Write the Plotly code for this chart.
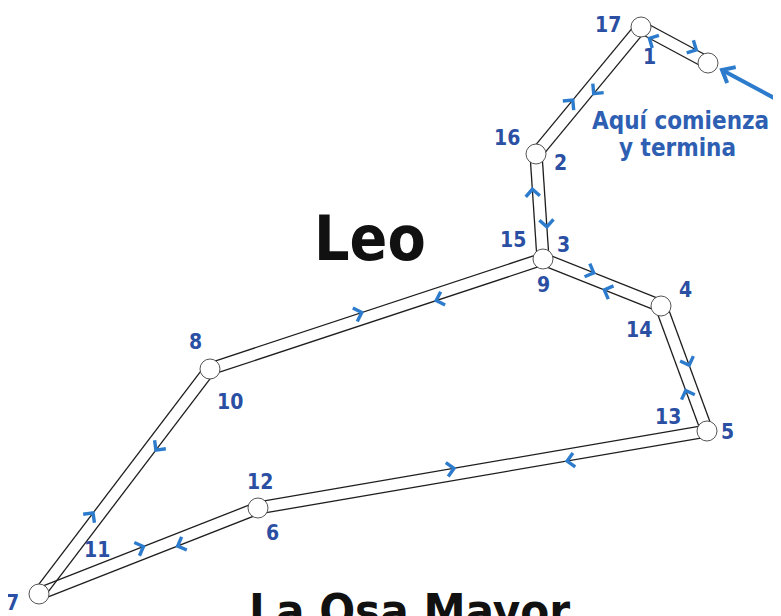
import numpy as np
import plotly.graph_objects as go

# ---- data ----
star_names = ["A", "B", "C", "D", "E", "F", "G", "H", "I"]
star_x = [641, 708, 536, 543, 661, 707, 258, 39, 210]
star_y = [27, 63, 154, 259, 306, 431, 508, 594, 369]

# route through the stars (B = start/end)
route = ["B", "A", "C", "D", "E", "F", "G", "H", "I", "D",
         "I", "H", "G", "F", "E", "D", "C", "A", "B"]
step_labels = [str(i) for i in range(1, 18)]
# where along each leg the direction chevron sits (fraction of leg)
arrow_fraction = [0.78, 0.47, 0.66, 0.38, 0.46, 0.305, 0.36, 0.33, 0.45,
                  0.315, 0.33, 0.47, 0.43, 0.31, 0.43, 0.63, 0.37, 0.73]

title_text = "Leo"
bottom_text = "La Osa Mayor"
start_text = ["Aquí comienza", "y termina"]

# ---- layout / style ----
label_offsets = {
    1: (8, 30), 2: (24, 9), 3: (20, -14), 4: (24, -16), 5: (20, 1),
    6: (14, 25), 7: (-27, 9), 8: (-15, -27), 9: (0, 26), 10: (20, 33),
    11: (58, -44), 12: (2, -26), 13: (-39, -14), 14: (-22, 24),
    15: (-30, -19), 16: (-29, -16), 17: (-33, -2),
}
HALF_GAP = 6.0
PAGE_MARGIN = 8  # default body margin of the html page
LINE_COLOR = "#1e1e1e"
NUM_COLOR = "#2a4fa3"
CHEV_COLOR = "#2c7bcc"
TXT_COLOR = "#2e5fb3"
NUM_FONT = "Liberation Sans Narrow, DejaVu Sans Condensed, Arial Narrow, sans-serif"

pos = {n: np.array([x, y], float) for n, x, y in zip(star_names, star_x, star_y)}


def rot(u, ang):
    c, s = np.cos(ang), np.sin(ang)
    return np.array([u[0] * c - u[1] * s, u[0] * s + u[1] * c])


lx, ly, cx, cy = [], [], [], []
for k in range(len(route) - 1):
    P, Q = pos[route[k]], pos[route[k + 1]]
    d = Q - P
    u = d / np.linalg.norm(d)
    nrm = np.array([u[1], -u[0]])  # left-hand side (y axis points down)
    a, b = P + HALF_GAP * nrm, Q + HALF_GAP * nrm
    lx += [a[0], b[0], None]
    ly += [a[1], b[1], None]
    m = P + arrow_fraction[k] * d + HALF_GAP * nrm
    tip = m + 4 * u
    p1, p2 = tip - 10 * rot(u, np.pi / 4), tip - 10 * rot(u, -np.pi / 4)
    cx += [p1[0], tip[0], p2[0], None]
    cy += [p1[1], tip[1], p2[1], None]

fig = go.Figure()
fig.add_trace(go.Scatter(x=lx, y=ly, mode="lines",
                         line=dict(color=LINE_COLOR, width=1.3), hoverinfo="skip"))
fig.add_trace(go.Scatter(x=cx, y=cy, mode="lines",
                         line=dict(color=CHEV_COLOR, width=3.4), hoverinfo="skip"))
fig.add_trace(go.Scatter(x=star_x, y=star_y, mode="markers", text=star_names,
                         marker=dict(size=20, color="white",
                                     line=dict(color="#555555", width=1))))

# start arrow pointing at B
B = pos["B"]
tail = B + np.array([68, 36])
head = B + np.array([14, 7])
u = (head - tail) / np.linalg.norm(head - tail)
p1, p2 = head - 14 * rot(u, np.pi / 4.5), head - 14 * rot(u, -np.pi / 4.5)
fig.add_trace(go.Scatter(x=[tail[0], head[0], None, p1[0], head[0], p2[0]],
                         y=[tail[1], head[1], None, p1[1], head[1], p2[1]],
                         mode="lines", line=dict(color=CHEV_COLOR, width=4),
                         hoverinfo="skip"))

ann = []
for i, lab in enumerate(step_labels, start=1):
    p = pos[route[i]]
    dx, dy = label_offsets[i]
    ann.append(dict(x=p[0] + dx, y=p[1] + dy, text=f"<b>{lab}</b>", showarrow=False,
                    xanchor="center", yanchor="middle",
                    font=dict(family=NUM_FONT, size=21, color=NUM_COLOR)))

ann.append(dict(x=370, y=238, text=f"<b>{title_text}</b>", showarrow=False,
                xanchor="center", yanchor="middle",
                font=dict(family=NUM_FONT, size=62, color="#111111")))
ann.append(dict(x=409, y=581, text=f"<b>{bottom_text}</b>", showarrow=False,
                xanchor="center", yanchor="top",
                font=dict(family=NUM_FONT, size=47, color="#111111")))
ann.append(dict(x=680, y=121, text=f"<b>{start_text[0]}</b>", showarrow=False,
                xanchor="center", yanchor="middle",
                font=dict(family=NUM_FONT, size=24, color=TXT_COLOR)))
ann.append(dict(x=677, y=148, text=f"<b>{start_text[1]}</b>", showarrow=False,
                xanchor="center", yanchor="middle",
                font=dict(family=NUM_FONT, size=24, color=TXT_COLOR)))

W, H = 781, 616
fig.update_layout(
    width=W - PAGE_MARGIN, height=H - PAGE_MARGIN, margin=dict(l=0, r=0, t=0, b=0),
    paper_bgcolor="white", plot_bgcolor="white", showlegend=False,
    xaxis=dict(range=[PAGE_MARGIN, W], visible=False, fixedrange=True),
    yaxis=dict(range=[H, PAGE_MARGIN], visible=False, fixedrange=True),
    annotations=ann,
)
fig.write_html("out.html")
